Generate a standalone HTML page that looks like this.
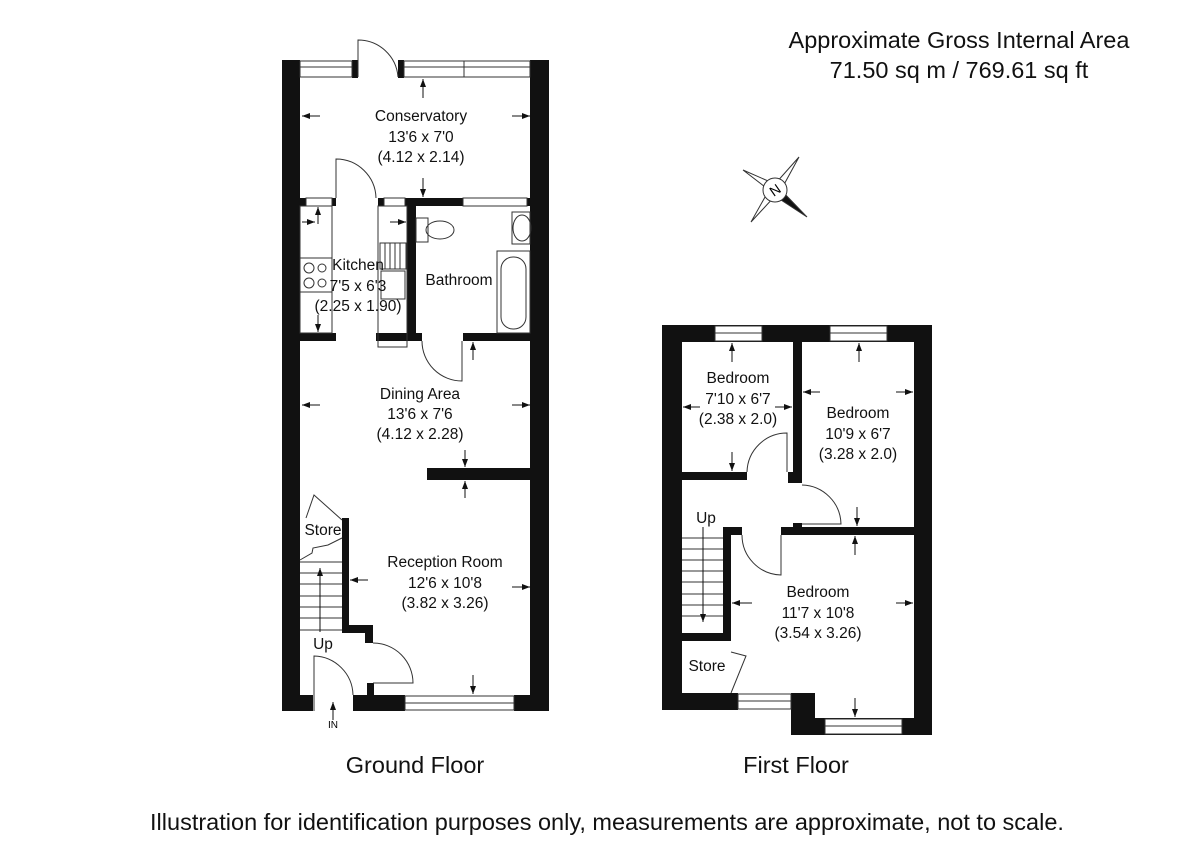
<!DOCTYPE html>
<html><head><meta charset="utf-8"><style>
html,body{margin:0;padding:0;background:#fff;}
svg{display:block;font-family:"Liberation Sans",Arial,sans-serif;}
.l{font-size:15.5px;fill:#111;text-anchor:middle;}
.b{font-size:23.5px;fill:#111;text-anchor:middle;}
.w{fill:#fff;stroke:#333;stroke-width:1;}
.t{fill:none;stroke:#333;stroke-width:1;}
</style></head><body>
<svg width="1200" height="849" viewBox="0 0 1200 849">
<defs><marker id="a" markerWidth="8" markerHeight="6" refX="8" refY="3" orient="auto"><path d="M0,0 L8,3 L0,6 z" fill="#111"/></marker></defs>
<text class="b" x="959" y="48">Approximate Gross Internal Area</text>
<text class="b" x="959" y="78">71.50 sq m / 769.61 sq ft</text>
<text class="b" x="415" y="773">Ground Floor</text>
<text class="b" x="796" y="773">First Floor</text>
<text class="b" x="607" y="830">Illustration for identification purposes only, measurements are approximate, not to scale.</text>

<!-- compass -->
<g transform="translate(775,190)">
<polygon points="-32,-20 0,-6 -6,0" fill="#fff" stroke="#333"/>
<polygon points="24,-33 6,0 0,-6" fill="#fff" stroke="#333"/>
<polygon points="-24,32 -6,0 0,6" fill="#fff" stroke="#333"/>
<polygon points="32,27 6,0 0,6" fill="#111" stroke="#333"/>
<circle r="12" fill="#fff" stroke="#333"/>
<text x="0" y="5" font-size="14" text-anchor="middle" transform="rotate(-35)">N</text>
</g>

<!-- GROUND FLOOR walls -->
<g fill="#111">
<rect x="282" y="60" width="18" height="651"/>
<rect x="530" y="60" width="19" height="651"/>
<rect x="282" y="60" width="18" height="18"/>
<rect x="352" y="60" width="6" height="18"/>
<rect x="398" y="60" width="6" height="18"/>
<rect x="300" y="198" width="6" height="8"/>
<rect x="332" y="198" width="4" height="8"/>
<rect x="378" y="198" width="6" height="8"/>
<rect x="405" y="198" width="58" height="8"/>
<rect x="527" y="198" width="3" height="8"/>
<rect x="407" y="198" width="9" height="143"/>
<rect x="300" y="333" width="36" height="8"/>
<rect x="376" y="333" width="46" height="8"/>
<rect x="463" y="333" width="67" height="8"/>
<rect x="427" y="468" width="103" height="12"/>
<rect x="342" y="518" width="7" height="114"/>
<rect x="342" y="625" width="31" height="8"/>
<rect x="365" y="625" width="8" height="18"/>
<rect x="367" y="683" width="7" height="14"/>
<rect x="282" y="695" width="31" height="16"/>
<rect x="353" y="695" width="52" height="16"/>
<rect x="514" y="695" width="35" height="16"/>
</g>
<rect class="w" x="300" y="61" width="52" height="16"/><line class="t" x1="300" y1="67" x2="352" y2="67"/>
<rect class="w" x="404" y="61" width="126" height="16"/><line class="t" x1="404" y1="67" x2="530" y2="67"/><line class="t" x1="464" y1="61" x2="464" y2="77"/>
<rect class="w" x="306" y="198" width="26" height="8"/>
<rect class="w" x="384" y="198" width="21" height="8"/>
<rect class="w" x="463" y="198" width="64" height="8"/>
<rect class="w" x="405" y="696" width="109" height="14"/><line class="t" x1="405" y1="703" x2="514" y2="703"/>
<path class="t" d="M358,77 L358,40 A40,40 0 0 1 398,77"/>
<path class="t" d="M336,198 L336,159 A40,40 0 0 1 376,198"/>
<path class="t" d="M422,341 A40,40 0 0 0 462,381 L462,341"/>
<path class="t" d="M373,643 A40,40 0 0 1 413,683 L373,683"/>
<path class="t" d="M314,711 L314,656 A40,40 0 0 1 353,695"/>
<path class="t" d="M306,518 L314,495 L342,520 M300,560 L312,553 L313,548 L328,545 L342,538"/>
<rect class="t" x="300" y="206" width="32" height="127"/>
<rect class="t" x="300" y="258" width="32" height="34"/>
<g class="t"><circle cx="309" cy="268" r="5"/><circle cx="322" cy="268" r="4"/><circle cx="309" cy="283" r="5"/><circle cx="322" cy="283" r="4"/></g>
<rect class="t" x="378" y="206" width="29" height="141"/>
<rect class="t" x="380" y="243" width="26" height="26"/>
<g class="t"><line x1="385" y1="243" x2="385" y2="269"/><line x1="390" y1="243" x2="390" y2="269"/><line x1="395" y1="243" x2="395" y2="269"/><line x1="400" y1="243" x2="400" y2="269"/></g>
<rect class="t" x="381" y="271" width="24" height="28"/>
<rect class="t" x="416" y="218" width="12" height="24"/>
<ellipse class="t" cx="440" cy="230" rx="14" ry="9"/>
<rect class="t" x="512" y="212" width="18" height="32"/>
<ellipse class="t" cx="522" cy="228" rx="9" ry="13"/>
<rect class="t" x="497" y="251" width="33" height="82"/>
<rect class="t" x="501" y="257" width="25" height="72" rx="12"/>
<g class="t">
<line x1="300" y1="562" x2="342" y2="562"/><line x1="300" y1="573" x2="342" y2="573"/><line x1="300" y1="584" x2="342" y2="584"/><line x1="300" y1="596" x2="342" y2="596"/><line x1="300" y1="607" x2="342" y2="607"/><line x1="300" y1="618" x2="342" y2="618"/><line x1="300" y1="630" x2="342" y2="630"/>
</g>
<line x1="320" y1="632" x2="320" y2="568" stroke="#111" marker-end="url(#a)"/>
<line x1="333" y1="720" x2="333" y2="702" stroke="#111" marker-end="url(#a)"/>
<text x="333" y="728" font-size="10" text-anchor="middle">IN</text>
<g stroke="#111" stroke-width="1">
<line x1="320" y1="116" x2="302" y2="116" marker-end="url(#a)"/>
<line x1="512" y1="116" x2="530" y2="116" marker-end="url(#a)"/>
<line x1="423" y1="98" x2="423" y2="79" marker-end="url(#a)"/>
<line x1="423" y1="178" x2="423" y2="197" marker-end="url(#a)"/>
<line x1="318" y1="224" x2="318" y2="207" marker-end="url(#a)"/>
<line x1="318" y1="315" x2="318" y2="332" marker-end="url(#a)"/>
<line x1="302" y1="222" x2="315" y2="222" marker-end="url(#a)"/>
<line x1="390" y1="222" x2="406" y2="222" marker-end="url(#a)"/>
<line x1="473" y1="360" x2="473" y2="342" marker-end="url(#a)"/>
<line x1="320" y1="405" x2="302" y2="405" marker-end="url(#a)"/>
<line x1="512" y1="405" x2="530" y2="405" marker-end="url(#a)"/>
<line x1="465" y1="450" x2="465" y2="467" marker-end="url(#a)"/>
<line x1="465" y1="498" x2="465" y2="481" marker-end="url(#a)"/>
<line x1="368" y1="580" x2="350" y2="580" marker-end="url(#a)"/>
<line x1="512" y1="587" x2="530" y2="587" marker-end="url(#a)"/>
<line x1="473" y1="675" x2="473" y2="694" marker-end="url(#a)"/>
</g>
<text class="l" x="421" y="121">Conservatory</text>
<text class="l" x="421" y="142">13'6 x 7'0</text>
<text class="l" x="421" y="162">(4.12 x 2.14)</text>
<text class="l" x="358" y="270">Kitchen</text>
<text class="l" x="358" y="291">7'5 x 6'3</text>
<text class="l" x="358" y="311">(2.25 x 1.90)</text>
<text class="l" x="459" y="285">Bathroom</text>
<text class="l" x="420" y="399">Dining Area</text>
<text class="l" x="420" y="419">13'6 x 7'6</text>
<text class="l" x="420" y="439">(4.12 x 2.28)</text>
<text class="l" x="323" y="535">Store</text>
<text class="l" x="445" y="567">Reception Room</text>
<text class="l" x="445" y="588">12'6 x 10'8</text>
<text class="l" x="445" y="608">(3.82 x 3.26)</text>
<text class="l" x="323" y="649">Up</text>

<!-- FIRST FLOOR -->
<g fill="#111">
<rect x="662" y="325" width="20" height="385"/>
<rect x="914" y="325" width="18" height="410"/>
<rect x="662" y="325" width="270" height="17"/>
<rect x="793" y="342" width="9" height="141"/>
<rect x="682" y="472" width="65" height="8"/>
<rect x="788" y="472" width="14" height="11"/>
<rect x="781" y="527" width="133" height="8"/>
<rect x="793" y="523" width="9" height="4"/>
<rect x="723" y="527" width="19" height="8"/>
<rect x="723" y="527" width="8" height="114"/>
<rect x="682" y="633" width="49" height="8"/>
<rect x="662" y="693" width="76" height="17"/>
<rect x="791" y="693" width="24" height="42"/>
<rect x="815" y="718" width="117" height="17"/>
</g>
<rect class="w" x="715" y="326" width="47" height="15"/><line class="t" x1="715" y1="333" x2="762" y2="333"/>
<rect class="w" x="830" y="326" width="57" height="15"/><line class="t" x1="830" y1="333" x2="887" y2="333"/>
<rect class="w" x="738" y="694" width="53" height="15"/><line class="t" x1="738" y1="701" x2="791" y2="701"/>
<rect class="w" x="825" y="719" width="77" height="15"/><line class="t" x1="825" y1="726" x2="902" y2="726"/>
<g class="t">
<path d="M747,472 A40,40 0 0 1 787,433 L787,472"/>
<path d="M802,485 A40,40 0 0 1 841,524 L802,524"/>
<path d="M742,535 A40,40 0 0 0 781,575 L781,535"/>
<path d="M731,693 L746,656 L731,652"/>
<line x1="682" y1="538" x2="723" y2="538"/><line x1="682" y1="549" x2="723" y2="549"/><line x1="682" y1="560" x2="723" y2="560"/><line x1="682" y1="571" x2="723" y2="571"/><line x1="682" y1="582" x2="723" y2="582"/><line x1="682" y1="594" x2="723" y2="594"/><line x1="682" y1="605" x2="723" y2="605"/><line x1="682" y1="616" x2="723" y2="616"/>
</g>
<g stroke="#111" stroke-width="1">
<line x1="703" y1="527" x2="703" y2="622" marker-end="url(#a)"/>
<line x1="732" y1="362" x2="732" y2="343" marker-end="url(#a)"/>
<line x1="700" y1="407" x2="683" y2="407" marker-end="url(#a)"/>
<line x1="775" y1="407" x2="792" y2="407" marker-end="url(#a)"/>
<line x1="732" y1="452" x2="732" y2="471" marker-end="url(#a)"/>
<line x1="859" y1="362" x2="859" y2="343" marker-end="url(#a)"/>
<line x1="820" y1="392" x2="803" y2="392" marker-end="url(#a)"/>
<line x1="896" y1="392" x2="913" y2="392" marker-end="url(#a)"/>
<line x1="857" y1="507" x2="857" y2="526" marker-end="url(#a)"/>
<line x1="855" y1="555" x2="855" y2="536" marker-end="url(#a)"/>
<line x1="752" y1="603" x2="732" y2="603" marker-end="url(#a)"/>
<line x1="896" y1="603" x2="913" y2="603" marker-end="url(#a)"/>
<line x1="855" y1="698" x2="855" y2="717" marker-end="url(#a)"/>
</g>
<text class="l" x="738" y="383">Bedroom</text>
<text class="l" x="738" y="404">7'10 x 6'7</text>
<text class="l" x="738" y="424">(2.38 x 2.0)</text>
<text class="l" x="858" y="418">Bedroom</text>
<text class="l" x="858" y="439">10'9 x 6'7</text>
<text class="l" x="858" y="459">(3.28 x 2.0)</text>
<text class="l" x="706" y="523">Up</text>
<text class="l" x="818" y="597">Bedroom</text>
<text class="l" x="818" y="618">11'7 x 10'8</text>
<text class="l" x="818" y="638">(3.54 x 3.26)</text>
<text class="l" x="707" y="671">Store</text>
</svg>
</body></html>
